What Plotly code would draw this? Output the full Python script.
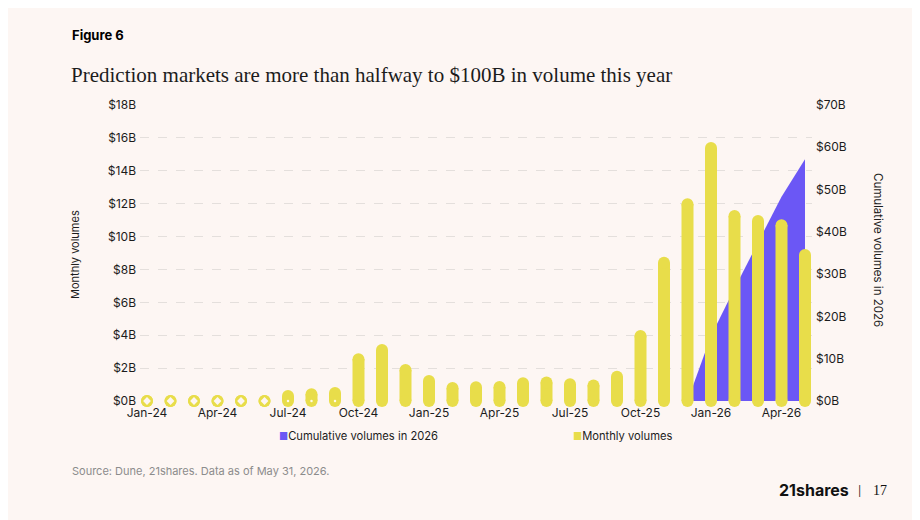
import plotly.graph_objects as go

# ---- data ----
months = ["Jan-24", "Feb-24", "Mar-24", "Apr-24", "May-24", "Jun-24",
          "Jul-24", "Aug-24", "Sep-24", "Oct-24", "Nov-24", "Dec-24",
          "Jan-25", "Feb-25", "Mar-25", "Apr-25", "May-25", "Jun-25",
          "Jul-25", "Aug-25", "Sep-25", "Oct-25", "Nov-25", "Dec-25",
          "Jan-26", "Feb-26", "Mar-26", "Apr-26", "May-26"]
monthly = [0.0, 0.0, 0.0, 0.0, 0.0, 0.0,
           0.30, 0.41, 0.49, 2.54, 3.10, 1.89,
           1.22, 0.79, 0.83, 0.85, 1.08, 1.12,
           1.02, 0.95, 1.48, 3.95, 8.41, 11.96,
           15.39, 11.25, 10.95, 10.69, 8.88]
cum_months = ["Dec-25", "Jan-26", "Feb-26", "Mar-26", "Apr-26", "May-26"]
cumulative = [0.0, 15.4, 26.6, 37.6, 48.3, 57.2]
tick_months = ["Jan-24", "Apr-24", "Jul-24", "Oct-24", "Jan-25", "Apr-25",
               "Jul-25", "Oct-25", "Jan-26", "Apr-26"]

YELLOW = "#E8DD4A"
PURPLE = "#6B57F5"
BG = "#FDF6F3"
INK = "#1c1c1c"

# the page puts the figure 8px in from the corner, so the figure is 8px smaller
OFF = 8
W, H = 920 - OFF, 520 - OFF
# first / last month centres and the y range ends, in page pixels
X0, X1, T, B = 147, 805, 105, 401
STEP = (X1 - X0) / (len(months) - 1)
PAD = 7  # px of room either side so the end bars are not cut
L, R = X0 - PAD, X1 + PAD
BAR_W = 12 / STEP  # 12px wide, in category units


def px(x):
    return (x - L) / (R - L)


def py(y):
    return (B - y) / (B - T)


fig = go.Figure()

# cumulative area on the primary (right-hand) axis so it sits behind the bars
fig.add_trace(go.Scatter(x=cum_months, y=cumulative, yaxis="y",
                         mode="lines", line=dict(width=0, color=PURPLE),
                         fill="tozeroy", fillcolor=PURPLE,
                         hoverinfo="skip", showlegend=False))

# monthly bars: straight body + round caps at both ends
fig.add_trace(go.Bar(x=months, y=monthly, yaxis="y2", width=BAR_W,
                     marker=dict(color=YELLOW, line=dict(width=0)),
                     cliponaxis=False, showlegend=False))
fig.add_trace(go.Scatter(x=months, y=monthly, yaxis="y2", mode="markers",
                         marker=dict(size=12, color=YELLOW),
                         cliponaxis=False, showlegend=False))
fig.add_trace(go.Scatter(x=months, y=[0] * len(months), yaxis="y2",
                         mode="markers", marker=dict(size=12, color=YELLOW),
                         cliponaxis=False, hoverinfo="skip", showlegend=False))

# hollow look of the empty months
ring_x = [m for m, v in zip(months, monthly) if v == 0]
fig.add_trace(go.Scatter(x=ring_x, y=[0] * len(ring_x), yaxis="y2",
                         mode="markers",
                         marker=dict(size=6, color=BG, symbol="diamond"),
                         cliponaxis=False, hoverinfo="skip", showlegend=False))
dot_x = [m for m, v in zip(months, monthly) if 0 < v < 0.6]
fig.add_trace(go.Scatter(x=dot_x, y=[0] * len(dot_x), yaxis="y2",
                         mode="markers", marker=dict(size=2.5, color="#fffbe8"),
                         cliponaxis=False, hoverinfo="skip", showlegend=False))

ann = [
    dict(x=px(70), y=py(35), text="<b>Figure 6</b>", xanchor="left",
         font=dict(family="Inter", size=13, color="#000")),
    dict(x=px(69), y=py(75),
         text="Prediction markets are more than halfway to $100B in volume this year",
         xanchor="left", font=dict(family="Liberation Serif", size=21, color=INK)),
    dict(x=px(75), y=py(255), text="Monthly volumes", textangle=-90,
         font=dict(family="Inter", size=11, color=INK)),
    dict(x=px(878), y=py(250), text="Cumulative volumes in 2026", textangle=90,
         font=dict(family="Inter", size=11.5, color=INK)),
    dict(x=px(277), y=py(436), xanchor="left",
         text=f"<span style='color:{PURPLE};font-size:10px'>■</span>Cumulative volumes in 2026",
         font=dict(family="Inter", size=11.2, color=INK)),
    dict(x=px(571), y=py(436), xanchor="left",
         text=f"<span style='color:{YELLOW};font-size:10px'>■</span>Monthly volumes",
         font=dict(family="Inter", size=11.2, color=INK)),
    dict(x=px(70), y=py(471), xanchor="left",
         text="Source: Dune, 21shares. Data as of May 31, 2026.",
         font=dict(family="Inter", size=11, color="#8c8c8c")),
    dict(x=px(851), y=py(490), xanchor="right", text="<b>21shares</b>",
         font=dict(family="Inter", size=16, color="#111")),
    dict(x=px(859), y=py(491), text="|",
         font=dict(family="Inter", size=10, color="#111")),
    dict(x=px(880), y=py(490), text="17",
         font=dict(family="Liberation Serif", size=14, color="#111")),
]
for a in ann:
    a.update(xref="paper", yref="paper", showarrow=False, yanchor="middle")
    a.setdefault("xanchor", "center")

tick_font = dict(family="Inter", size=12, color=INK)
fig.update_layout(
    width=W, height=H,
    margin=dict(l=L - OFF, r=920 - R, t=T - OFF, b=520 - B),
    paper_bgcolor=BG, plot_bgcolor=BG,
    showlegend=False,
    annotations=ann,
    xaxis=dict(type="category", categoryorder="array", categoryarray=months,
               range=[-PAD / STEP, len(months) - 1 + PAD / STEP],
               tickvals=tick_months,
               showgrid=False, zeroline=False, showline=False, ticks="",
               tickfont=tick_font, ticklabelstandoff=3),
    # cumulative axis (right)
    yaxis=dict(range=[0, 70], dtick=10, tickprefix="$", ticksuffix="B",
               side="right", showgrid=False, zeroline=False,
               showline=False, ticks="", tickfont=tick_font,
               ticklabelstandoff=3),
    # monthly axis (left), drawn over the area
    yaxis2=dict(range=[0, 18], dtick=2, tickprefix="$", ticksuffix="B",
                overlaying="y", side="left",
                showgrid=True, gridcolor="#e4dfdc", griddash="dash", gridwidth=1,
                zeroline=False, showline=False, ticks="",
                tickfont=tick_font, ticklabelstandoff=3),
)

fig.write_html("out.html")
